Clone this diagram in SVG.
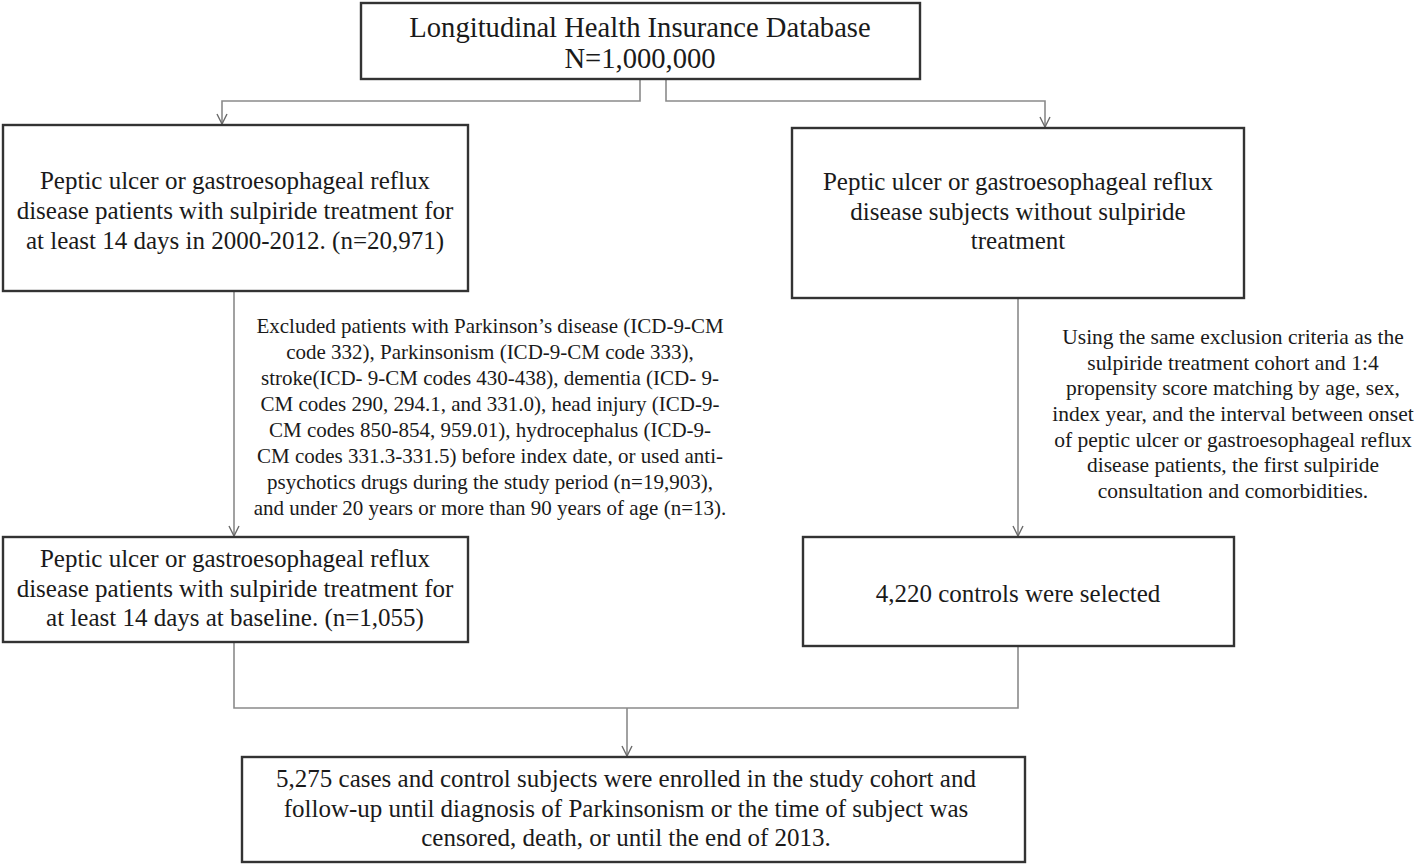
<svg xmlns="http://www.w3.org/2000/svg" width="1417" height="864" viewBox="0 0 1417 864">
<style>
.box{fill:#fff;stroke:#333;stroke-width:2.4}
.t{font-family:"Liberation Serif","Times New Roman",serif;fill:#1a1a1a;text-anchor:middle}
.b{font-size:25px}
.s{font-size:21px}
.c{fill:none;stroke:#8a8a8a;stroke-width:1.6}
</style>
<defs>
<marker id="arr" viewBox="0 0 12 12" refX="11" refY="6" markerWidth="12" markerHeight="12" markerUnits="userSpaceOnUse" orient="auto">
<path d="M1,1 L11,6 L1,11" fill="none" stroke="#6a6a6a" stroke-width="1.4"/>
</marker>
</defs>
<rect width="1417" height="864" fill="#fff"/>
<g id="connectors">
<path class="c" d="M640,79 V101 H222 V124" marker-end="url(#arr)"/>
<path class="c" d="M666,79 V101 H1045 V127" marker-end="url(#arr)"/>
<path class="c" d="M234,291 V536" marker-end="url(#arr)"/>
<path class="c" d="M1018,298 V536" marker-end="url(#arr)"/>
<path class="c" d="M234,642 V708 H1018 V646"/>
<path class="c" d="M627,708 V756" marker-end="url(#arr)"/>
</g>
<g id="n-database">
<rect class="box" x="361" y="3" width="559" height="76"/>
<text class="t" x="640" y="37" font-size="28.6">Longitudinal Health Insurance Database</text>
<text class="t" x="640" y="68" font-size="28.6">N=1,000,000</text>
</g>
<g id="n-sulpiride">
<rect class="box" x="3" y="125" width="465" height="166"/>
<text class="t b" x="235" y="189">Peptic ulcer or gastroesophageal reflux</text>
<text class="t b" x="235" y="219">disease patients with sulpiride treatment for</text>
<text class="t b" x="235" y="249">at least 14 days in 2000-2012. (n=20,971)</text>
</g>
<g id="n-nonsulpiride">
<rect class="box" x="792" y="128" width="452" height="170"/>
<text class="t b" x="1018" y="190">Peptic ulcer or gastroesophageal reflux</text>
<text class="t b" x="1018" y="220">disease subjects without sulpiride</text>
<text class="t b" x="1018" y="249">treatment</text>
</g>
<g id="n-excluded">
<text class="t s" x="490" y="333">Excluded patients with Parkinson’s disease (ICD-9-CM</text>
<text class="t s" x="490" y="359">code 332), Parkinsonism (ICD-9-CM code 333),</text>
<text class="t s" x="490" y="385">stroke(ICD- 9-CM codes 430-438), dementia (ICD- 9-</text>
<text class="t s" x="490" y="411">CM codes 290, 294.1, and 331.0), head injury (ICD-9-</text>
<text class="t s" x="490" y="437">CM codes 850-854, 959.01), hydrocephalus (ICD-9-</text>
<text class="t s" x="490" y="463">CM codes 331.3-331.5) before index date, or used anti-</text>
<text class="t s" x="490" y="489">psychotics drugs during the study period (n=19,903),</text>
<text class="t s" x="490" y="515">and under 20 years or more than 90 years of age (n=13).</text>
</g>
<g id="n-matching">
<text class="t" font-size="21.5" x="1233" y="344">Using the same exclusion criteria as the</text>
<text class="t" font-size="21.5" x="1233" y="370">sulpiride treatment cohort and 1:4</text>
<text class="t" font-size="21.5" x="1233" y="395">propensity score matching by age, sex,</text>
<text class="t" font-size="21.5" x="1233" y="421">index year, and the interval between onset</text>
<text class="t" font-size="21.5" x="1233" y="447">of peptic ulcer or gastroesophageal reflux</text>
<text class="t" font-size="21.5" x="1233" y="472">disease patients, the first sulpiride</text>
<text class="t" font-size="21.5" x="1233" y="498">consultation and comorbidities.</text>
</g>
<g id="n-baseline">
<rect class="box" x="3" y="537" width="465" height="105"/>
<text class="t b" x="235" y="567">Peptic ulcer or gastroesophageal reflux</text>
<text class="t b" x="235" y="597">disease patients with sulpiride treatment for</text>
<text class="t b" x="235" y="626">at least 14 days at baseline. (n=1,055)</text>
</g>
<g id="n-controls">
<rect class="box" x="803" y="537" width="431" height="109"/>
<text class="t b" x="1018" y="602">4,220 controls were selected</text>
</g>
<g id="n-cohort">
<rect class="box" x="242" y="757" width="783" height="105"/>
<text class="t b" x="626" y="787">5,275 cases and control subjects were enrolled in the study cohort and</text>
<text class="t b" x="626" y="817">follow-up until diagnosis of Parkinsonism or the time of subject was</text>
<text class="t b" x="626" y="846">censored, death, or until the end of 2013.</text>
</g>
</svg>
